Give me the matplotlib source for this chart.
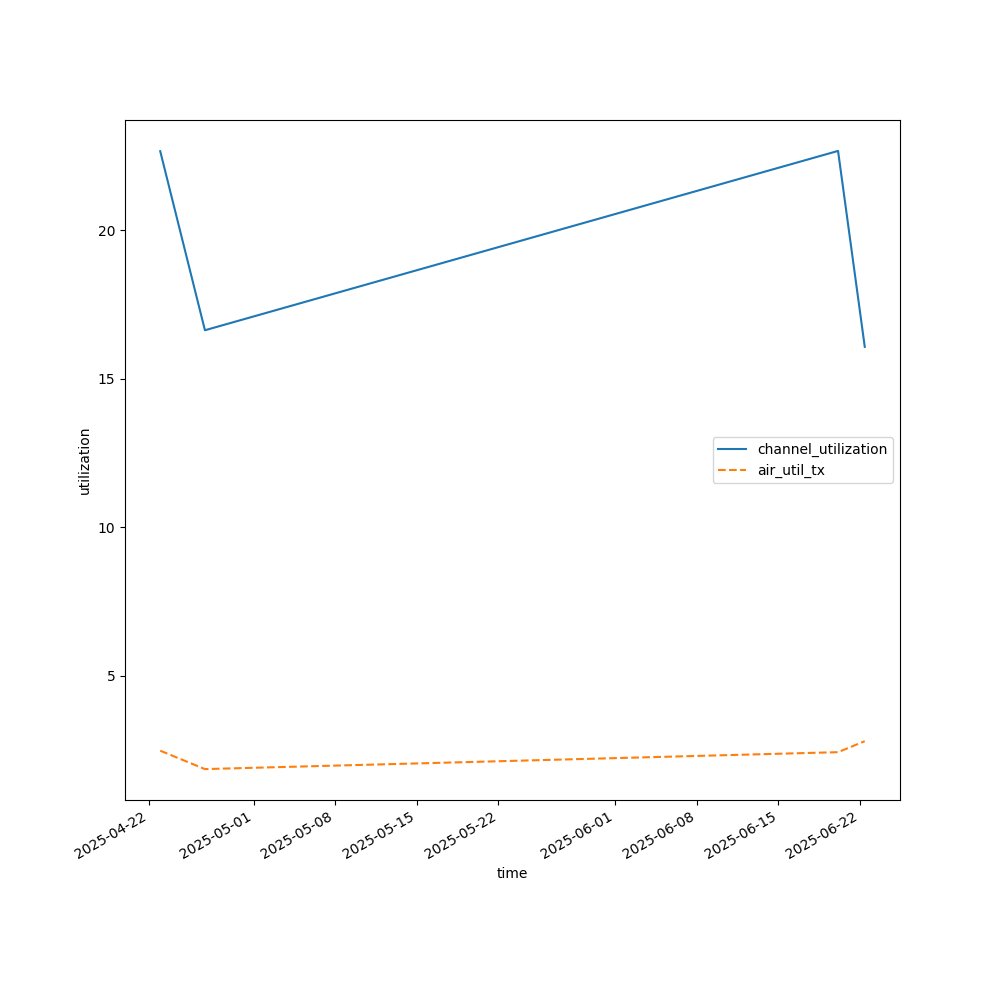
import matplotlib
matplotlib.use("Agg")
import matplotlib.pyplot as plt
import pandas as pd

times = ["2025-04-23 00:00", "2025-04-26 20:00", "2025-06-20 03:00", "2025-06-22 10:00"]
channel_utilization = [22.66, 16.63, 22.67, 16.07]
air_util_tx = [2.47, 1.85, 2.42, 2.79]

t = pd.to_datetime(times)

fig, ax = plt.subplots(figsize=(10, 10), dpi=100)
ax.plot(t, channel_utilization, label="channel_utilization")
ax.plot(t, air_util_tx, linestyle="--", label="air_util_tx")
ax.set_xlabel("time")
ax.set_ylabel("utilization")
ax.legend(loc="center right")
fig.autofmt_xdate()
fig.savefig("out.png")
